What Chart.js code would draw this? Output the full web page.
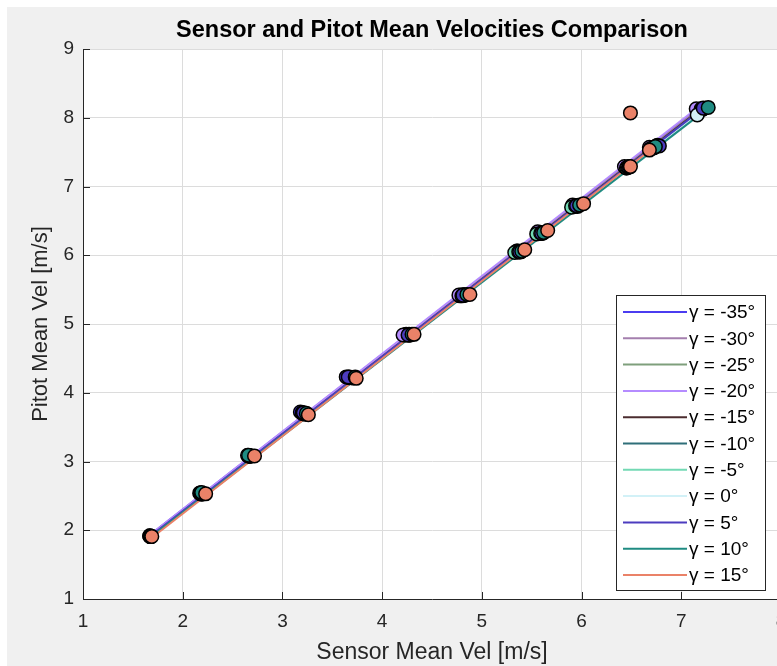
<!DOCTYPE html>
<html>
<head>
<meta charset="utf-8">
<script src="https://cdn.jsdelivr.net/npm/chart.js@4.4.0/dist/chart.umd.min.js"></script>
<style>
  html, body { margin: 0; padding: 0; background: #fff; overflow: hidden; }
  #wrap { position: absolute; left: 0; top: 0; width: 800px; height: 666px; }
</style>
</head>
<body>
<div id="wrap"><canvas id="chart1" width="800" height="666"></canvas></div>
<script>
// yaw angles, one series each
const gammaLabels = ['-35', '-30', '-25', '-20', '-15', '-10', '-5', '0', '5', '10', '15'];
const seriesColors = ['#4b3cf0', '#a47fae', '#7f9f7c', '#b58cff', '#4b2c2f', '#2f6f79',
                      '#73d9b4', '#d2f1f7', '#4c3cbf', '#1f8b82', '#ea8268'];

// sensor mean velocity [m/s] per series
const sensorVel = [
  [1.67, 2.17, 2.66, 3.18, 3.64, 4.24, 4.79, 5.35, 5.57, 5.92, 6.44, 6.76, 7.17],
  [1.67, 2.18, 2.66, 3.20, 3.67, 4.23, 4.78, 5.36, 5.58, 5.93, 6.45, 6.70, 7.16],
  [1.68, 2.19, 2.67, 3.21, 3.69, 4.25, 4.81, 5.37, 5.59, 5.94, 6.46, 6.71, 7.19],
  [1.67, 2.18, 2.65, 3.20, 3.67, 4.21, 4.77, 5.36, 5.56, 5.91, 6.43, 6.68, 7.15],
  [1.68, 2.19, 2.68, 3.22, 3.70, 4.27, 4.82, 5.38, 5.60, 5.95, 6.46, 6.72, 7.20],
  [1.68, 2.20, 2.69, 3.23, 3.72, 4.28, 4.83, 5.39, 5.61, 5.96, 6.47, 6.73, 7.22],
  [1.68, 2.19, 2.67, 3.22, 3.70, 4.27, 4.80, 5.33, 5.55, 5.90, 6.45, 6.69, 7.21],
  [1.68, 2.20, 2.68, 3.23, 3.71, 4.28, 4.82, 5.37, 5.59, 5.94, 6.46, 6.72, 7.16],
  [1.68, 2.19, 2.67, 3.21, 3.66, 4.26, 4.81, 5.38, 5.60, 5.95, 6.47, 6.78, 7.22],
  [1.68, 2.19, 2.66, 3.24, 3.73, 4.30, 4.85, 5.40, 5.62, 5.98, 6.48, 6.74, 7.27],
  [1.69, 2.23, 2.72, 3.26, 3.74, 4.32, 4.88, 5.43, 5.66, 6.02, 6.49, 6.68, 6.49]
];

// pitot mean velocity [m/s] per series
const pitotVel = [
  [1.92, 2.54, 3.08, 3.72, 4.23, 4.85, 5.42, 6.06, 6.33, 6.72, 7.28, 7.60, 8.12],
  [1.91, 2.53, 3.08, 3.70, 4.22, 4.84, 5.41, 6.05, 6.33, 6.71, 7.27, 7.56, 8.11],
  [1.91, 2.53, 3.08, 3.70, 4.22, 4.84, 5.42, 6.05, 6.32, 6.72, 7.28, 7.56, 8.12],
  [1.92, 2.54, 3.09, 3.71, 4.23, 4.84, 5.42, 6.06, 6.34, 6.73, 7.29, 7.57, 8.13],
  [1.91, 2.53, 3.08, 3.70, 4.22, 4.84, 5.42, 6.05, 6.32, 6.72, 7.28, 7.57, 8.13],
  [1.91, 2.53, 3.08, 3.69, 4.22, 4.84, 5.42, 6.05, 6.32, 6.71, 7.28, 7.57, 8.13],
  [1.91, 2.53, 3.08, 3.70, 4.22, 4.85, 5.41, 6.04, 6.31, 6.70, 7.27, 7.55, 8.12],
  [1.91, 2.53, 3.08, 3.69, 4.22, 4.84, 5.42, 6.05, 6.32, 6.72, 7.28, 7.56, 8.04],
  [1.91, 2.53, 3.08, 3.71, 4.23, 4.84, 5.42, 6.05, 6.32, 6.72, 7.28, 7.59, 8.14],
  [1.91, 2.55, 3.09, 3.70, 4.23, 4.85, 5.43, 6.06, 6.33, 6.73, 7.29, 7.58, 8.15],
  [1.91, 2.53, 3.08, 3.68, 4.21, 4.85, 5.43, 6.08, 6.36, 6.75, 7.29, 7.53, 8.07]
];

// fitted line end points [x0, y0, x1, y1]
const fitLines = [
  [1.67, 1.93, 7.17, 8.13],
  [1.67, 1.92, 7.16, 8.11],
  [1.68, 1.91, 7.19, 8.12],
  [1.67, 1.93, 7.15, 8.13],
  [1.68, 1.91, 7.20, 8.13],
  [1.68, 1.90, 7.22, 8.12],
  [1.68, 1.91, 7.21, 8.11],
  [1.68, 1.91, 7.16, 8.04],
  [1.68, 1.92, 7.22, 8.14],
  [1.68, 1.90, 7.27, 8.14],
  [1.69, 1.89, 6.68, 7.52]
];

const xTicks = [1, 2, 3, 4, 5, 6, 7, 8];
const yTicks = [1, 2, 3, 4, 5, 6, 7, 8, 9];

const FONT = 'Liberation Sans, Arial, Helvetica, sans-serif';
const n = gammaLabels.length;
const datasets = [];

gammaLabels.forEach((g, i) => {
  datasets.push({
    label: 'γ = ' + g + '°',
    type: 'line',
    isFit: true,
    data: [{x: fitLines[i][0], y: fitLines[i][1]}, {x: fitLines[i][2], y: fitLines[i][3]}],
    borderColor: seriesColors[i],
    borderWidth: 2,
    pointRadius: 0,
    fill: false,
    order: 100 + (n - i)
  });
  datasets.push({
    label: 'pts ' + g,
    type: 'scatter',
    data: sensorVel[i].map((v, k) => ({x: v, y: pitotVel[i][k]})),
    backgroundColor: seriesColors[i],
    borderColor: '#000',
    borderWidth: 1.5,
    pointRadius: 6.8,
    order: n - i
  });
});

// figure background and white axes area
const backdrop = {
  id: 'backdrop',
  beforeDraw(chart) {
    const c = chart.ctx, a = chart.chartArea;
    c.save();
    c.fillStyle = '#ffffff';
    c.fillRect(0, 0, chart.width, chart.height);
    c.fillStyle = '#f0f0f0';
    c.fillRect(7, 7, chart.width - 7, chart.height - 7);
    c.fillStyle = '#ffffff';
    c.fillRect(a.left, a.top, a.right - a.left, a.bottom - a.top);
    c.restore();
  }
};

// short tick marks pointing into the axes
const innerTicks = {
  id: 'innerTicks',
  afterDatasetsDraw(chart) {
    const c = chart.ctx, a = chart.chartArea;
    const xs = chart.scales.x, ys = chart.scales.y;
    c.save();
    c.strokeStyle = '#262626';
    c.lineWidth = 1;
    c.beginPath();
    xTicks.forEach(t => {
      const px = Math.round(xs.getPixelForValue(t)) + 0.5;
      c.moveTo(px, a.bottom);
      c.lineTo(px, a.bottom - 7);
    });
    yTicks.forEach(t => {
      const py = Math.round(ys.getPixelForValue(t)) + 0.5;
      c.moveTo(a.left, py);
      c.lineTo(a.left + 7, py);
    });
    c.stroke();
    c.restore();
  }
};

// boxed legend in the lower right corner of the axes
const boxLegend = {
  id: 'boxLegend',
  afterDraw(chart) {
    const c = chart.ctx;
    const fits = chart.data.datasets.filter(d => d.isFit);
    const bx = 616, by = 295, bw = 149, bh = 295;
    c.save();
    c.fillStyle = '#ffffff';
    c.fillRect(bx, by, bw, bh);
    c.strokeStyle = '#262626';
    c.lineWidth = 1;
    c.strokeRect(bx + 0.5, by + 0.5, bw, bh);
    c.font = '19px ' + FONT;
    c.textBaseline = 'middle';
    c.textAlign = 'left';
    fits.forEach((d, i) => {
      const y = by + 17 + i * 26.3;
      c.strokeStyle = d.borderColor;
      c.lineWidth = 2;
      c.beginPath();
      c.moveTo(bx + 7, y);
      c.lineTo(bx + 71, y);
      c.stroke();
      c.fillStyle = '#000';
      c.fillText(d.label, bx + 73, y + 1);
    });
    c.restore();
  }
};

const ctx = document.getElementById('chart1');
const chart = new Chart(ctx, {
  type: 'scatter',
  data: { datasets: datasets },
  plugins: [backdrop, innerTicks, boxLegend],
  options: {
    responsive: false,
    animation: false,
    layout: { padding: { top: 0, right: 19, bottom: 0, left: 0 } },
    plugins: {
      legend: { display: false },
      tooltip: { enabled: false },
      title: {
        display: true,
        fullSize: false,
        text: 'Sensor and Pitot Mean Velocities Comparison',
        color: '#000',
        font: { family: FONT, size: 23.5, weight: 'bold', lineHeight: 1.2 },
        padding: { top: 16, bottom: 4.8 }
      }
    },
    scales: {
      x: {
        type: 'linear',
        min: xTicks[0], max: xTicks[xTicks.length - 1],
        afterBuildTicks: s => { s.ticks = xTicks.map(v => ({value: v})); },
        afterFit: s => { s.height = 67; },
        grid: { color: '#dcdcdc', lineWidth: 1, drawTicks: false },
        border: { color: '#262626', width: 1 },
        ticks: { color: '#262626', padding: 11, font: { family: FONT, size: 19 } },
        title: {
          display: true, text: 'Sensor Mean Vel [m/s]', color: '#262626',
          font: { family: FONT, size: 23, lineHeight: 1.2 },
          padding: { top: 0, bottom: 0 }
        }
      },
      y: {
        type: 'linear',
        min: yTicks[0], max: yTicks[yTicks.length - 1],
        afterBuildTicks: s => { s.ticks = yTicks.map(v => ({value: v})); },
        afterFit: s => { s.width = 83; },
        grid: { color: '#dcdcdc', lineWidth: 1, drawTicks: false },
        border: { color: '#262626', width: 1 },
        ticks: { color: '#262626', padding: 9, font: { family: FONT, size: 19 } },
        title: {
          display: true, text: 'Pitot Mean Vel [m/s]', color: '#262626',
          font: { family: FONT, size: 22, lineHeight: 1.2 },
          padding: { top: 28, bottom: 0 }
        }
      }
    }
  }
});
</script>
</body>
</html>
